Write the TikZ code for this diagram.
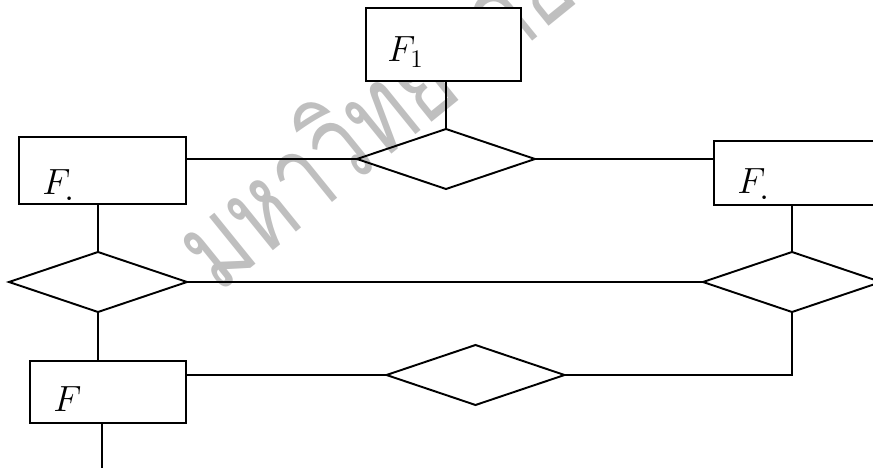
\documentclass[tikz,border=0pt]{standalone}
\usepackage{amsmath}
\usepackage{fontspec}
\newfontfamily\thaifont[Script=Thai]{Loma}
\usepackage{tikz}
\usetikzlibrary{calc,shapes.geometric}

\begin{document}
\begin{tikzpicture}[
    entbox/.style={rectangle, draw=black, fill=white, line width=1.1pt, inner sep=0pt, outer sep=0pt},
    relbox/.style={diamond, draw=black, line width=1.1pt, inner sep=0pt, outer sep=0pt,
        minimum width=3.56cm, minimum height=1.2cm},
    lbl/.style={anchor=base west, inner sep=0pt, font=\fontsize{20}{24}\selectfont},
    link/.style={line width=1.1pt}
    ]
    \clip (0,0) rectangle (17.46,-9.36);

    % watermark
    \node[anchor=base west, rotate=39, xscale=0.73, text=black!25, inner sep=0pt, font=\thaifont\fontsize{67}{70}\selectfont] (wm) at (4.36,-5.9) {มหาวิทยาลัย};

    \node[entbox, minimum width=3.1cm, minimum height=1.46cm] (f1) at (8.87,-0.89) {};

    \node[relbox] (r1) at ($(f1) + (0.05, -2.29)$) {};

    \node[entbox, minimum width=3.34cm, minimum height=1.34cm] (fa) at ($(f1) + (-6.82, -2.52)$) {};

    \node[entbox, minimum width=3.34cm, minimum height=1.28cm] (fb) at ($(f1) + (7.08, -2.57)$) {};

    \node[relbox] (ra) at ($(fa) + (-0.09, -2.23)$) {};

    \node[relbox] (rb) at ($(fb) + (-0.11, -2.18)$) {};

    \node[entbox, minimum width=3.12cm, minimum height=1.24cm] (fc) at ($(fa) + (0.11, -4.43)$) {};

    \node[relbox] (rc) at ($(r1) + (0.59, -4.32)$) {};

    \coordinate (tail) at (2.04,-9.36);

    \node[lbl] (f1lbl) at ($(f1.south west) + (0.42, 0.38)$) {$F_1$};
    \node[lbl] (falbl) at ($(fa.south west) + (0.46, 0.18)$) {$F_{\textbf{.}}$};
    \node[lbl] (fblbl) at ($(fb.south west) + (0.46, 0.22)$) {$F_{\textbf{.}}$};
    \node[lbl] (fclbl) at ($(fc.south west) + (0.46, 0.22)$) {$F$};

    \draw[link] (r1.north) -- (r1.north |- f1.south);
    \draw[link] (r1.west) -- (r1.west -| fa.east);
    \draw[link] (r1.east) -- (r1.east -| fb.west);
    \draw[link] (ra.north) -- (ra.north |- fa.south);
    \draw[link] (rb.north) -- (rb.north |- fb.south);
    \draw[link] (ra.east) -- (rb.west);
    \draw[link] (ra.south) -- (ra.south |- fc.north);
    \draw[link] (rc.west) -- (rc.west -| fc.east);
    \draw[link] (rc.east) -- (rc.east -| rb.south) -- (rb.south);
    \draw[link] (tail |- fc.south) -- (tail);

\end{tikzpicture}
\end{document}
